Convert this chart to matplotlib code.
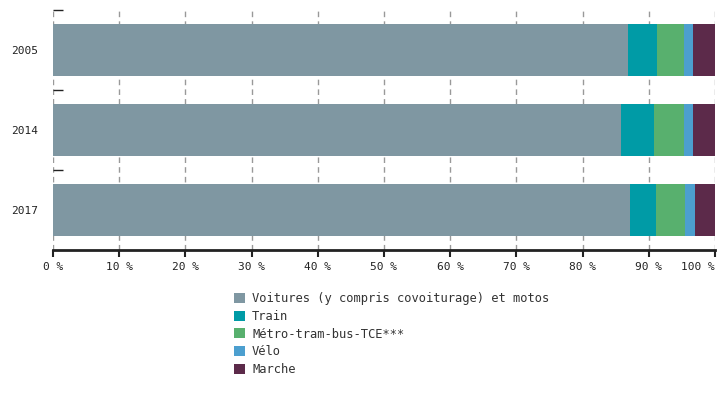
import matplotlib
matplotlib.use("Agg")
import matplotlib.pyplot as plt
from matplotlib.patches import Patch
import numpy as np

plt.rcParams["font.family"] = ["DejaVu Sans Mono"]

years = ["2005", "2014", "2017"]
modes = ["Voitures (y compris covoiturage) et motos", "Train",
         "Métro-tram-bus-TCE***", "Vélo", "Marche"]
voitures = [86.9, 85.8, 87.2]
train = [4.4, 5.0, 3.9]
metro = [4.0, 4.5, 4.4]
velo = [1.4, 1.4, 1.5]
marche = [3.3, 3.3, 3.0]
colors = ["#7f97a2", "#009ba6", "#58b06e", "#4c9fcf", "#5c2a4a"]

series = [voitures, train, metro, velo, marche]

fig = plt.figure(figsize=(7.25, 4), dpi=100)
ax = fig.add_axes([53 / 725, 150 / 400, 662 / 725, 240 / 400])

y = np.arange(len(years))
left = np.zeros(len(years))
for vals, col in zip(series, colors):
    ax.barh(y, vals, left=left, height=0.65, color=col, zorder=2)
    left += np.array(vals)

ax.set_xlim(0, 100)
ax.set_ylim(2.5, -0.5)
ax.set_xticks(np.arange(0, 101, 10))
ax.set_xticklabels([f"{v} %" for v in range(0, 101, 10)])
ax.set_yticks(y)
ax.set_yticklabels(years)
ax.set_yticks([-0.5, 0.5, 1.5], minor=True)
ax.tick_params(axis="y", which="major", length=0, labelsize=8, pad=10.5, colors="#222222")
ax.tick_params(axis="y", which="minor", direction="in", length=7.5, width=1, color="#222222")
ax.tick_params(axis="x", length=5, width=1.5, labelsize=8, colors="#222222")
ax.grid(axis="x", color="#999999", linestyle=(0, (4, 3)), linewidth=1, zorder=1)
for s in ["top", "right", "left"]:
    ax.spines[s].set_visible(False)
ax.spines["bottom"].set_linewidth(2)
ax.spines["bottom"].set_color("#222222")

# last label sits flush with the right edge
ax.get_xticklabels()[-1].set_ha("right")

handles = [Patch(facecolor=c, edgecolor="none") for c in colors]
fig.legend(handles, modes, loc="upper left", bbox_to_anchor=(223 / 725, 1 - 281 / 400),
           frameon=False, fontsize=8.7, handlelength=0.9, handleheight=0.9,
           handletextpad=0.6, labelspacing=0.4, labelcolor="#333333")

fig.savefig("out.png", dpi=100)
